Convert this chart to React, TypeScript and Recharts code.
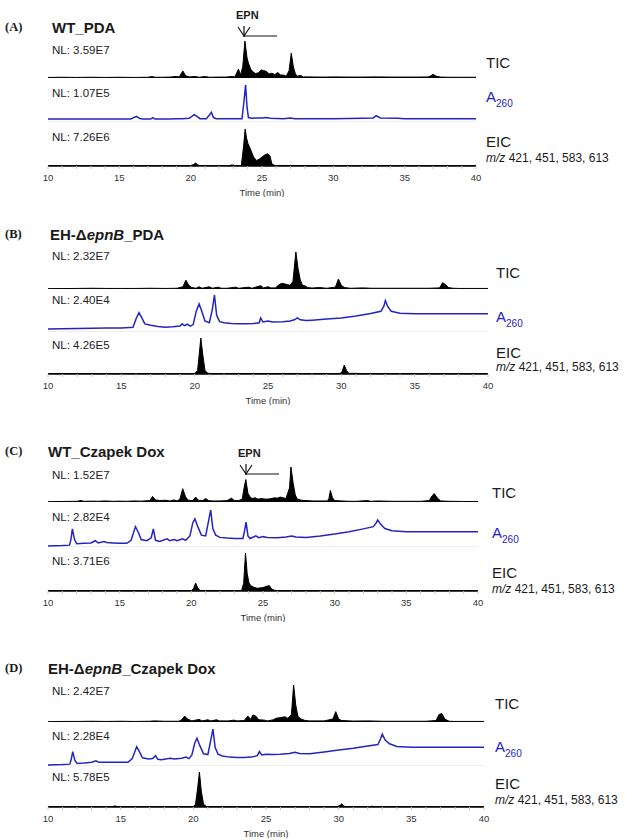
import React from "react";
import { AreaChart, Area, LineChart, Line, XAxis, YAxis, ReferenceLine, Label } from "recharts";

// Chromatograms: each trace is [time (min), % of its NL]
type Pt = [number, number];

const ticA: Pt[] = [
  [10, 1.5], [11, 2], [12, 1.5], [13, 2], [14, 1.5], [15, 2], [16, 1.5], [17, 2], [17.3, 4], [17.5, 2],
  [18, 2], [18.6, 2.5], [18.9, 4], [19.2, 3], [19.45, 19], [19.65, 6], [19.9, 3], [20.3, 4], [20.6, 2], [21.0, 4],
  [21.3, 2], [22, 2.5], [22.5, 2.5], [22.9, 4], [23.1, 3], [23.35, 24], [23.5, 8], [23.65, 30], [23.8, 100], [23.95, 55],
  [24.05, 40], [24.2, 25], [24.35, 17], [24.55, 12], [24.75, 14], [24.95, 22], [25.1, 20], [25.3, 18], [25.5, 11],
  [25.7, 13], [25.9, 9], [26.1, 15], [26.3, 8], [26.5, 8], [26.7, 5], [26.9, 20], [27.05, 67], [27.2, 30], [27.35, 10],
  [27.5, 5], [27.7, 7], [27.9, 3], [28.3, 3], [29, 2.5], [29.5, 2.5], [30, 3], [31, 2.5], [32, 2.5], [33, 3], [34, 2.5],
  [35, 2.5], [36, 2.5], [36.7, 3], [37.0, 10], [37.2, 5], [37.5, 2.5], [38, 2], [39, 2], [40, 2],
];
const uvA: Pt[] = [
  [10, 8], [12, 8], [14, 8], [15.8, 8], [16.0, 12], [16.2, 15], [16.4, 10], [16.6, 8], [17.2, 8], [17.35, 12],
  [17.5, 8], [18.5, 8], [19, 9], [19.4, 9], [19.9, 10], [20.25, 20], [20.45, 15], [20.65, 9], [21.1, 9], [21.3, 18],
  [21.45, 26], [21.6, 12], [21.8, 9], [23.6, 9], [23.72, 50], [23.85, 100], [23.95, 40], [24.05, 12], [24.3, 10],
  [24.6, 11], [25.0, 11], [25.3, 12], [25.6, 10], [26.5, 9], [27.0, 11], [27.3, 9], [30, 9], [32, 10], [32.8, 11],
  [33.0, 17], [33.3, 11], [34.5, 10], [35, 9], [37, 9], [40, 9],
];
const eicA: Pt[] = [
  [10, 1], [15, 1], [20, 1], [20.2, 4], [20.35, 8], [20.5, 3], [20.7, 1], [22.7, 1], [22.9, 3], [23.1, 1], [23.55, 1],
  [23.7, 50], [23.82, 100], [23.92, 75], [24.02, 60], [24.12, 52], [24.25, 40], [24.4, 25], [24.6, 15], [24.8, 18],
  [25.0, 24], [25.2, 30], [25.4, 33], [25.55, 28], [25.7, 5], [25.9, 1.5], [30, 1], [40, 1],
];

const ticB: Pt[] = [
  [10, 1], [12, 1.5], [13, 2], [14, 1.5], [15, 1.5], [16, 1.5], [17, 2], [18, 1.5], [18.8, 2], [19.2, 6], [19.4, 24],
  [19.6, 10], [19.8, 4], [20.1, 2], [20.3, 6], [20.5, 2], [21.0, 6], [21.2, 2], [21.6, 5], [21.8, 2], [22.2, 2],
  [22.8, 5], [23, 2], [23.7, 5], [23.9, 2], [24.5, 9], [24.7, 3], [25.0, 6], [25.2, 3], [25.5, 3], [25.7, 10],
  [25.9, 15], [26.1, 14], [26.3, 12], [26.5, 10], [26.7, 20], [26.9, 100], [27.05, 55], [27.2, 25], [27.35, 10],
  [27.5, 9], [27.7, 4], [28, 2.5], [28.5, 4], [29, 2], [29.6, 5], [29.8, 27], [30.0, 10], [30.2, 4], [30.6, 2],
  [31.5, 3], [32, 2], [33, 2], [34, 2], [35, 2], [36, 2], [36.7, 3], [36.9, 17], [37.1, 12], [37.3, 4], [37.6, 2],
  [38, 1.5], [40, 1.5],
];
const uvB: Pt[] = [
  [10, 8], [11, 9], [12, 9.5], [13, 10], [14, 11], [15, 11], [15.8, 13], [16.0, 35], [16.2, 52], [16.4, 38],
  [16.6, 22], [17, 18], [17.5, 15], [18, 13], [18.5, 14], [19, 16], [19.15, 22], [19.3, 17], [19.5, 21], [19.7, 16],
  [19.9, 20], [20.1, 55], [20.3, 76], [20.45, 60], [20.7, 30], [21.0, 25], [21.2, 60], [21.35, 100], [21.5, 45],
  [21.7, 28], [22, 25], [22.5, 23], [23, 22], [23.5, 22], [24, 23], [24.4, 25], [24.5, 38], [24.65, 27], [25, 30],
  [25.3, 27], [26, 28], [26.5, 30], [26.8, 33], [27.0, 38], [27.2, 33], [27.6, 31], [28, 32], [29, 35], [30, 38],
  [31, 43], [32, 50], [32.7, 56], [32.9, 70], [33.0, 85], [33.15, 70], [33.4, 56], [34, 51], [35, 49], [36, 49],
  [38, 49], [40, 49],
];
const eicB: Pt[] = [
  [10, 1], [13, 1.5], [13.2, 1], [15, 1], [18, 1], [20, 1], [20.2, 10], [20.3, 50], [20.42, 100], [20.55, 55],
  [20.7, 10], [20.9, 2], [21.2, 1], [26.9, 1.5], [27, 1], [29.9, 1], [30.05, 6], [30.2, 25], [30.35, 10], [30.5, 2],
  [31.2, 1.5], [31.4, 1], [40, 1],
];

const ticC: Pt[] = [
  [10, 1], [11, 1.5], [12, 2], [12.3, 4], [12.5, 2], [13, 2.5], [13.5, 2], [14, 3], [14.5, 2], [15, 2.5], [15.5, 2],
  [16, 3], [16.5, 2.5], [17.1, 4], [17.3, 16], [17.5, 6], [17.8, 4], [18.2, 5], [18.5, 3], [18.8, 6], [19.0, 3],
  [19.2, 8], [19.4, 38], [19.6, 14], [19.8, 5], [20.1, 4], [20.3, 14], [20.5, 5], [20.8, 4], [21.0, 10], [21.2, 4],
  [21.5, 3], [22, 3], [22.5, 4], [22.8, 11], [23.0, 4], [23.3, 4], [23.55, 8], [23.68, 40], [23.8, 64], [23.95, 25],
  [24.1, 14], [24.25, 10], [24.45, 12], [24.65, 8], [24.9, 10], [25.2, 8], [25.5, 9], [25.8, 12], [26.0, 11],
  [26.2, 14], [26.4, 12], [26.6, 10], [26.85, 40], [26.95, 100], [27.1, 55], [27.25, 20], [27.4, 8], [27.7, 5],
  [28, 4], [28.5, 3], [29, 3], [29.5, 3], [29.6, 10], [29.7, 33], [29.85, 12], [30.0, 4], [30.5, 3], [31, 2],
  [31.5, 2], [32.3, 4], [32.5, 2], [33, 3], [34, 2], [35, 2], [36, 2], [36.6, 4], [36.8, 18], [36.95, 24],
  [37.15, 12], [37.4, 3], [38, 2], [39, 1.5], [40, 1.5],
];
const uvC: Pt[] = [
  [10, 3], [11, 4], [11.5, 5], [11.6, 20], [11.7, 49], [11.85, 20], [12.0, 9], [12.5, 10], [13.0, 11], [13.3, 17],
  [13.5, 11], [13.9, 15], [14.1, 12], [14.5, 11], [15, 10], [15.5, 10], [15.8, 18], [16.1, 55], [16.3, 40],
  [16.5, 20], [16.9, 17], [17.2, 25], [17.35, 49], [17.5, 18], [17.8, 15], [18.3, 22], [18.5, 17], [18.8, 20],
  [19, 17], [19.4, 22], [19.6, 18], [19.9, 30], [20.1, 65], [20.25, 76], [20.45, 55], [20.7, 32], [21.0, 30],
  [21.2, 70], [21.35, 100], [21.5, 50], [21.7, 32], [22, 26], [22.5, 24], [23, 23], [23.6, 23], [23.72, 45],
  [23.82, 67], [23.95, 30], [24.1, 23], [24.5, 30], [24.7, 25], [25, 28], [25.3, 26], [26, 25], [26.6, 27],
  [27.0, 30], [27.3, 27], [28, 26], [29, 30], [30, 35], [31, 41], [32, 49], [32.7, 55], [32.9, 65], [33.0, 73],
  [33.2, 62], [33.5, 50], [34, 44], [35, 41], [36, 41], [38, 41], [40, 41],
];
const eicC: Pt[] = [
  [10, 1], [15, 1], [19, 1], [20.0, 1], [20.15, 6], [20.3, 21], [20.45, 8], [20.6, 1.5], [23.5, 1], [23.65, 20],
  [23.78, 100], [23.9, 45], [24.02, 22], [24.15, 14], [24.35, 10], [24.6, 7], [25.0, 9], [25.3, 13], [25.45, 14],
  [25.6, 5], [25.8, 2], [26, 1], [40, 1],
];

const ticD: Pt[] = [
  [10, 1], [11, 1.5], [12, 1.5], [13, 2], [14, 1.5], [15, 2], [16, 1.5], [17, 2], [17.3, 3], [18, 2], [19, 2],
  [19.2, 6], [19.4, 16], [19.6, 8], [19.9, 3], [20.4, 7], [20.6, 3], [21.0, 6], [21.2, 3], [21.6, 6], [21.8, 3],
  [22.4, 3], [22.8, 5], [23.0, 3], [23.5, 4], [23.75, 16], [23.95, 7], [24.1, 19], [24.3, 16], [24.5, 6], [24.9, 5],
  [25.1, 3], [25.5, 6], [25.7, 10], [26.0, 12], [26.3, 14], [26.5, 10], [26.75, 20], [26.9, 100], [27.05, 45],
  [27.2, 15], [27.4, 8], [27.7, 4], [28, 3], [28.5, 3], [29, 3], [29.6, 8], [29.8, 28], [30.0, 8], [30.2, 4],
  [31, 2.5], [32, 3], [33, 2], [34, 2], [35, 2], [36, 2], [36.7, 4], [36.9, 20], [37.1, 23], [37.3, 8], [37.6, 2],
  [38, 1.5], [40, 1.5],
];
const uvD: Pt[] = [
  [10, 3], [11, 4], [11.5, 5], [11.6, 18], [11.7, 39], [11.85, 15], [12.0, 7], [12.5, 8], [13.0, 10], [13.3, 14],
  [13.5, 10], [14, 10], [14.5, 10], [15, 10], [15.5, 10], [15.8, 20], [16.1, 52], [16.3, 38], [16.5, 22],
  [16.9, 19], [17.2, 20], [17.4, 28], [17.55, 18], [17.8, 17], [18.4, 21], [18.7, 19], [19.2, 21], [19.5, 24],
  [19.7, 20], [19.9, 30], [20.1, 62], [20.25, 75], [20.45, 55], [20.7, 33], [21.0, 31], [21.2, 70], [21.35, 100],
  [21.5, 50], [21.7, 32], [22, 27], [22.5, 24], [23, 23], [23.5, 23], [24, 24], [24.4, 28], [24.55, 39], [24.7, 30],
  [25, 32], [25.5, 31], [26, 32], [26.6, 34], [27.0, 37], [27.3, 34], [28, 33], [29, 38], [30, 43], [31, 48],
  [32, 54], [32.7, 58], [32.9, 75], [33.0, 86], [33.2, 70], [33.5, 60], [34, 53], [35, 51], [36, 51], [38, 51],
  [40, 51],
];
const eicD: Pt[] = [
  [10, 1], [14.4, 1], [14.6, 3], [14.8, 1], [18, 1], [20.0, 1], [20.15, 8], [20.3, 55], [20.42, 100], [20.55, 45],
  [20.7, 8], [20.9, 1.5], [22.7, 1], [29.9, 1], [30.1, 5], [30.2, 9], [30.35, 3], [30.5, 1], [32.2, 1], [32.3, 2.5],
  [32.4, 1], [40, 1],
];

const minuteTicks = [
  10, 11, 12, 13, 14, 15, 16, 17, 18, 19, 20, 21, 22, 23, 24, 25, 26, 27, 28, 29, 30, 31, 32, 33, 34, 35, 36, 37,
  38, 39, 40,
];

const nlA = ["3.59E7", "1.07E5", "7.26E6"];
const nlB = ["2.32E7", "2.40E4", "4.26E5"];
const nlC = ["1.52E7", "2.82E4", "3.71E6"];
const nlD = ["2.42E7", "2.28E4", "5.78E5"];

const SANS = "'Liberation Sans', Arial, Helvetica, sans-serif";
const SERIF = "'Liberation Serif', 'Times New Roman', serif";
const BLUE = "#2424c2";
const INK = "#1a1a1a";
const PAD = 12; // side room so the end tick labels are not clipped

function TimeTick(props: any) {
  const { x, y, payload } = props;
  if (payload.value % 5 !== 0) return <g />;
  return (
    <text x={x} y={y} dy={10} textAnchor="middle" fontSize={9.5} fontFamily={SANS} fill="#333">
      {payload.value}
    </text>
  );
}

function Trace({ pts, kind, x0, x1, top, bottom, axis }: {
  pts: Pt[]; kind: "ms" | "uv"; x0: number; x1: number; top: number; bottom: number; axis?: boolean;
}) {
  const data = pts.map(([t, v]) => ({ t, v }));
  const w = x1 - x0 + PAD * 2;
  const h = bottom - top + (axis ? 31 : 0);
  const margin = { top: 0, right: PAD, bottom: 0, left: PAD };
  const xAxis = axis ? (
    <XAxis
      dataKey="t" type="number" domain={[10, 40]} ticks={minuteTicks} interval={0} height={31}
      axisLine={{ stroke: "#000", strokeWidth: 1.5 }} tickLine={{ stroke: "#c4c4c4" }}
      tickSize={3} tickMargin={2} tick={TimeTick}
    >
      <Label value="Time (min)" position="insideBottom" offset={1}
        style={{ fontSize: 9.5, fontFamily: SANS, fill: "#333" }} />
    </XAxis>
  ) : (
    <XAxis dataKey="t" type="number" domain={[10, 40]} hide />
  );
  return (
    <div style={{ position: "absolute", left: x0 - PAD, top, width: w, height: h }}>
      {kind === "uv" ? (
        <LineChart width={w} height={h} data={data} margin={margin}>
          {xAxis}
          <YAxis hide domain={[0, 100]} allowDataOverflow />
          <ReferenceLine y={0} stroke="#dcdcdc" strokeWidth={1} />
          <Line type="linear" dataKey="v" stroke={BLUE} strokeWidth={1.5} dot={false} isAnimationActive={false} />
        </LineChart>
      ) : (
        <AreaChart width={w} height={h} data={data} margin={margin}>
          {xAxis}
          <YAxis hide domain={[0, 100]} allowDataOverflow />
          <Area type="linear" dataKey="v" stroke="#000" strokeWidth={1} fill="#000" fillOpacity={1}
            isAnimationActive={false} />
        </AreaChart>
      )}
    </div>
  );
}

function Txt({ x, y, size, bold, color, family, children }: any) {
  return (
    <div style={{
      position: "absolute", left: x, top: y, transform: "translateY(-50%)", fontSize: size,
      fontWeight: bold ? 700 : 400, color: color || INK, fontFamily: family || SANS, lineHeight: 1,
      whiteSpace: "nowrap",
    }}>{children}</div>
  );
}

function Epn({ x, y }: { x: number; y: number }) {
  // y = tip of the arrow
  return (
    <>
      <Txt x={x - 8} y={y - 22} size={11} bold>EPN</Txt>
      <svg style={{ position: "absolute", left: x - 8, top: y - 12 }} width={46} height={16}>
        <polyline points="2,2 8,11 14,2" fill="none" stroke="#111" strokeWidth={1.2} />
        <line x1={8} y1={1} x2={8} y2={12} stroke="#111" strokeWidth={1.2} />
        <line x1={8} y1={11} x2={41} y2={11} stroke="#111" strokeWidth={1.2} />
      </svg>
    </>
  );
}

const panels = [
  { tag: "(A)", title: <>WT_PDA</>, titleY: 27, tx: 52, x0: 48, x1: 476, tic: ticA, uv: uvA, eic: eicA, nl: nlA,
    box: [41, 78, 85, 122, 129, 166], nlY: [51, 94, 138], labX: 486, labY: [62, 96, 141, 158], epn: [244, 37] },
  { tag: "(B)", title: <>EH-Δ<i>epnB</i>_PDA</>, titleY: 234, tx: 50, x0: 48, x1: 488, tic: ticB, uv: uvB, eic: eicB, nl: nlB,
    box: [252, 289, 295, 332, 338, 374], nlY: [257, 301, 346], labX: 496, labY: [272, 316, 352, 367], epn: null },
  { tag: "(C)", title: <>WT_Czapek Dox</>, titleY: 451, tx: 48, x0: 48, x1: 478, tic: ticC, uv: uvC, eic: eicC, nl: nlC,
    box: [467, 502, 510, 547, 553, 591], nlY: [476, 518, 562], labX: 492, labY: [492, 532, 572, 589], epn: [246, 475] },
  { tag: "(D)", title: <>EH-Δ<i>epnB</i>_Czapek Dox</>, titleY: 668, tx: 48, x0: 48, x1: 484, tic: ticD, uv: uvD, eic: eicD, nl: nlD,
    box: [685, 722, 729, 766, 772, 807], nlY: [692, 737, 778], labX: 495, labY: [703, 746, 783, 800], epn: null },
];

export default function App() {
  return (
    <div style={{ position: "absolute", left: 0, top: 0, width: 634, height: 840, background: "#fff", overflow: "hidden" }}>
      {panels.map((p) => (
        <React.Fragment key={p.tag}>
          <Txt x={5} y={p.titleY} size={12.5} bold family={SERIF}>{p.tag}</Txt>
          <Txt x={p.tx} y={p.titleY} size={15} bold>{p.title}</Txt>
          {p.epn && <Epn x={p.epn[0]} y={p.epn[1]} />}
          <Trace pts={p.tic} kind="ms" x0={p.x0} x1={p.x1} top={p.box[0]} bottom={p.box[1]} />
          <Trace pts={p.uv} kind="uv" x0={p.x0} x1={p.x1} top={p.box[2]} bottom={p.box[3]} />
          <Trace pts={p.eic} kind="ms" x0={p.x0} x1={p.x1} top={p.box[4]} bottom={p.box[5]} axis />
          {p.nl.map((v, i) => (
            <Txt key={i} x={52} y={p.nlY[i]} size={11.5} color="#222">NL: {v}</Txt>
          ))}
          <Txt x={p.labX} y={p.labY[0]} size={15}>TIC</Txt>
          <Txt x={p.labX} y={p.labY[1]} size={15} color={BLUE}>
            A<span style={{ fontSize: 10, position: "relative", top: 5 }}>260</span>
          </Txt>
          <Txt x={p.labX} y={p.labY[2]} size={15}>EIC</Txt>
          <Txt x={p.labX} y={p.labY[3]} size={12}><i>m/z</i> 421, 451, 583, 613</Txt>
        </React.Fragment>
      ))}
    </div>
  );
}
